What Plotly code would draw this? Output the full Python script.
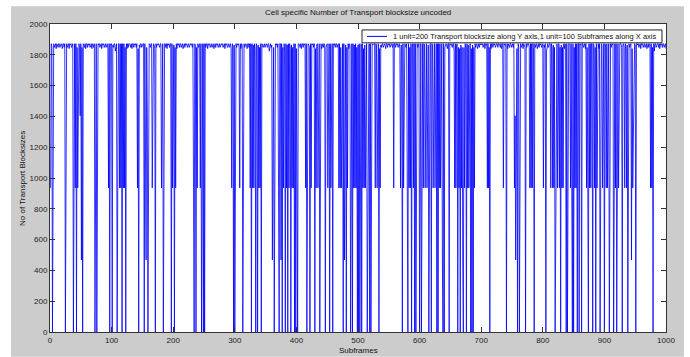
import plotly.graph_objects as go

# Top-band levels (transport block sizes)
H, S, M, L, D = 1872, 1864, 1848, 1840, 1824

# Top band value for each of the 1000 subframes (25 per row)
band = [
    H,H,M,H,S, H,M,H,H,L, H,S,M,H,H, M,H,H,S,L, H,H,M,H,S,
    S,H,M,H,H, L,H,S,H,M, H,H,M,S,H, L,H,H,M,H, S,H,M,H,H,
    H,M,H,H,S, M,H,L,H,H, M,H,S,H,M, H,H,L,H,S, M,H,H,M,H,
    M,H,H,S,H, M,H,H,L,H, S,H,M,H,H, M,S,H,L,H, H,M,H,S,H,
    H,S,M,H,H, D,H,H,M,S, H,H,M,H,L, H,S,H,M,H, H,M,H,H,L,
    H,M,H,H,S, M,H,L,H,H, M,H,S,H,M, H,H,L,H,S, M,H,H,M,H,
    H,H,M,H,S, H,M,H,H,L, H,S,M,H,H, M,H,H,S,L, H,H,M,H,S,
    H,S,M,H,H, D,H,H,M,S, H,H,M,H,L, H,S,H,M,H, H,M,H,H,L,
    S,H,M,H,H, L,H,S,H,M, H,H,M,S,H, L,H,H,M,H, S,H,M,H,H,
    M,H,H,S,H, M,H,H,L,H, S,H,M,H,H, M,S,H,L,H, H,M,H,S,H,
    S,H,M,H,H, L,H,S,H,M, H,H,M,S,H, L,H,H,M,H, S,H,M,H,H,
    M,H,H,S,H, M,H,H,L,H, S,H,M,H,H, M,S,H,L,H, H,M,H,S,H,
    H,H,M,H,S, H,M,H,H,L, H,S,M,H,H, M,H,H,S,L, H,H,M,H,S,
    H,M,H,H,S, M,H,L,H,H, M,H,S,H,M, H,H,L,H,S, M,H,H,M,H,
    H,S,M,H,H, D,H,H,M,S, H,H,M,H,L, H,S,H,M,H, H,M,H,H,L,
    H,S,M,H,H, D,H,H,M,S, H,H,M,H,L, H,S,H,M,H, H,M,H,H,L,
    H,M,H,H,S, M,H,L,H,H, M,H,S,H,M, H,H,L,H,S, M,H,H,M,H,
    S,H,M,H,H, L,H,S,H,M, H,H,M,S,H, L,H,H,M,H, S,H,M,H,H,
    M,H,H,S,H, M,H,H,L,H, S,H,M,H,H, M,S,H,L,H, H,M,H,S,H,
    H,H,M,H,S, H,M,H,H,L, H,S,M,H,H, M,H,H,S,L, H,H,M,H,S,
    M,H,H,S,H, M,H,H,L,H, S,H,M,H,H, M,S,H,L,H, H,M,H,S,H,
    H,H,M,H,S, H,M,H,H,L, H,S,M,H,H, M,H,H,S,L, H,H,M,H,S,
    H,M,H,H,S, M,H,L,H,H, M,H,S,H,M, H,H,L,H,S, M,H,H,M,H,
    H,S,M,H,H, D,H,H,M,S, H,H,M,H,L, H,S,H,M,H, H,M,H,H,L,
    S,H,M,H,H, L,H,S,H,M, H,H,M,S,H, L,H,H,M,H, S,H,M,H,H,
    H,H,M,H,S, H,M,H,H,L, H,S,M,H,H, M,H,H,S,L, H,H,M,H,S,
    H,S,M,H,H, D,H,H,M,S, H,H,M,H,L, H,S,H,M,H, H,M,H,H,L,
    M,H,H,S,H, M,H,H,L,H, S,H,M,H,H, M,S,H,L,H, H,M,H,S,H,
    S,H,M,H,H, L,H,S,H,M, H,H,M,S,H, L,H,H,M,H, S,H,M,H,H,
    H,M,H,H,S, M,H,L,H,H, M,H,S,H,M, H,H,L,H,S, M,H,H,M,H,
    H,M,H,H,S, M,H,L,H,H, M,H,S,H,M, H,H,L,H,S, M,H,H,M,H,
    S,H,M,H,H, L,H,S,H,M, H,H,M,S,H, L,H,H,M,H, S,H,M,H,H,
    H,S,M,H,H, D,H,H,M,S, H,H,M,H,L, H,S,H,M,H, H,M,H,H,L,
    H,H,M,H,S, H,M,H,H,L, H,S,M,H,H, M,H,H,S,L, H,H,M,H,S,
    M,H,H,S,H, M,H,H,L,H, S,H,M,H,H, M,S,H,L,H, H,M,H,S,H,
    S,H,M,H,H, L,H,S,H,M, H,H,M,S,H, L,H,H,M,H, S,H,M,H,H,
    H,M,H,H,S, M,H,L,H,H, M,H,S,H,M, H,H,L,H,S, M,H,H,M,H,
    H,H,M,H,S, H,M,H,H,L, H,S,M,H,H, M,H,H,S,L, H,H,M,H,S,
    M,H,H,S,H, M,H,H,L,H, S,H,M,H,H, M,S,H,L,H, H,M,H,S,H,
    H,S,M,H,H, D,H,H,M,S, H,H,M,H,L, H,S,H,M,H, H,M,H,H,L,
]

# Subframe indices (0-based) where the block size drops, grouped by level
zero_idx = [3, 24, 37, 42, 52, 72, 75, 96, 100, 108, 116, 122, 143, 152, 158, 170,
            183, 196, 201, 233, 236, 245, 248, 250, 297, 299, 312, 326, 333, 336,
            342, 363, 371, 376, 381, 385, 390, 396, 398, 401, 416, 421, 429, 437,
            446, 453, 458, 475, 480, 487, 490, 498, 500, 502, 505, 514, 518, 520,
            533, 571, 580, 586, 591, 593, 599, 602, 614, 618, 627, 629, 637, 639,
            647, 661, 665, 670, 675, 682, 684, 686, 713, 740, 758, 761, 771, 785,
            804, 819, 828, 837, 839, 847, 849, 855, 858, 862, 873, 880, 885, 892,
            899, 907, 914, 919, 928, 937, 950, 978]
half_idx = [0, 40, 44, 73, 94, 112, 114, 118, 120, 141, 154, 165, 180, 198, 203, 232,
            238, 243, 294, 307, 324, 328, 330, 338, 340, 370, 378, 383, 387, 392, 394,
            400, 414, 423, 431, 434, 450, 455, 468, 470, 472, 478, 482, 492, 494, 496,
            507, 509, 511, 516, 527, 530, 535, 557, 568, 573, 579, 582, 584, 589, 605,
            608, 611, 621, 624, 631, 633, 656, 658, 663, 667, 672, 677, 679, 688, 709,
            711, 735, 753, 756, 778, 780, 782, 800, 812, 815, 817, 820, 823, 826, 830,
            832, 844, 846, 851, 853, 870, 872, 875, 877, 883, 887, 893, 896, 902, 904,
            915, 917, 922, 932, 935, 945, 974, 976]
quarter_idx = [50, 155, 360, 374, 477, 515, 636, 669, 755, 943]
upper_idx = [48, 157, 361, 609, 754, 946]

ZERO_VAL, HALF_VAL, QUARTER_VAL, UPPER_VAL = 0, 936, 468, 1404

values = list(band)
for i in upper_idx:
    values[i] = UPPER_VAL
for i in half_idx:
    values[i] = HALF_VAL
for i in quarter_idx:
    values[i] = QUARTER_VAL
for i in zero_idx:
    values[i] = ZERO_VAL

subframes = list(range(1, len(values) + 1))

title_text = "Cell specific Number of Transport blocksize uncoded"
xlabel = "Subframes"
ylabel = "No of Transport Blocksizes"
legend_text = "1 unit=200 Transport blocksize along Y axis,1 unit=100 Subframes along X axis"
x_ticks = list(range(0, 1001, 100))
y_ticks = list(range(0, 2001, 200))

LINE_COLOR = "#0000ff"
FONT = "Liberation Sans, Arial, sans-serif"

fig = go.Figure()
fig.add_trace(go.Scatter(
    x=subframes, y=values, mode="lines",
    line=dict(color=LINE_COLOR, width=0.8),
    name=legend_text, showlegend=False,
))

# MATLAB-style legend box drawn in paper coordinates
leg_x0, leg_x1, leg_y0, leg_y1 = 0.5065, 0.9935, 0.9389, 0.9807
leg_mid = (leg_y0 + leg_y1) / 2

fig.update_layout(
    width=690, height=357,
    margin=dict(l=50, r=24, t=24, b=22),
    paper_bgcolor="white", plot_bgcolor="white",
    font=dict(family=FONT, size=8, color="#222"),
    showlegend=False,
    shapes=[
        dict(type="rect", xref="paper", yref="paper", x0=-0.0633, x1=1.0292,
             y0=-0.08, y1=1.058, fillcolor="#cccccc", line=dict(width=0), layer="below"),
        dict(type="rect", xref="paper", yref="paper", x0=0, x1=1, y0=0, y1=1,
             fillcolor="white", line=dict(width=0), layer="below"),
        dict(type="rect", xref="paper", yref="paper", x0=leg_x0, x1=leg_x1,
             y0=leg_y0, y1=leg_y1, fillcolor="white",
             line=dict(color="#222", width=1), layer="above"),
        dict(type="line", xref="paper", yref="paper", x0=0.5146, x1=0.5471,
             y0=leg_mid, y1=leg_mid, line=dict(color=LINE_COLOR, width=1), layer="above"),
    ],
    annotations=[
        dict(text=legend_text, xref="paper", yref="paper", x=0.5536, y=leg_mid,
             showarrow=False, xanchor="left", yanchor="middle",
             font=dict(family=FONT, size=7.5, color="#111")),
        dict(text=title_text, xref="paper", yref="paper", x=0.5, y=1.0386,
             showarrow=False, xanchor="center", yanchor="middle",
             font=dict(family=FONT, size=8, color="#111")),
        dict(text=xlabel, xref="paper", yref="paper", x=0.5, y=-0.038,
             showarrow=False, xanchor="center", yanchor="top",
             font=dict(family=FONT, size=8, color="#111")),
        dict(text=ylabel, xref="paper", yref="paper", x=-0.0455, y=0.5,
             showarrow=False, xanchor="center", yanchor="middle", textangle=-90,
             font=dict(family=FONT, size=8, color="#111")),
    ],
)
fig.update_xaxes(range=[0, 1000], tickvals=x_ticks, ticks="inside", ticklen=5,
                 tickcolor="#333", showline=True, linecolor="#333", linewidth=1,
                 mirror="ticks", showgrid=False, zeroline=False,
                 tickfont=dict(family=FONT, size=8, color="#222"))
fig.update_yaxes(range=[0, 2000], tickvals=y_ticks, ticks="inside", ticklen=5,
                 tickcolor="#333", showline=True, linecolor="#333", linewidth=1,
                 mirror="ticks", showgrid=False, zeroline=False,
                 tickfont=dict(family=FONT, size=8, color="#222"))

fig.write_html("out.html")
